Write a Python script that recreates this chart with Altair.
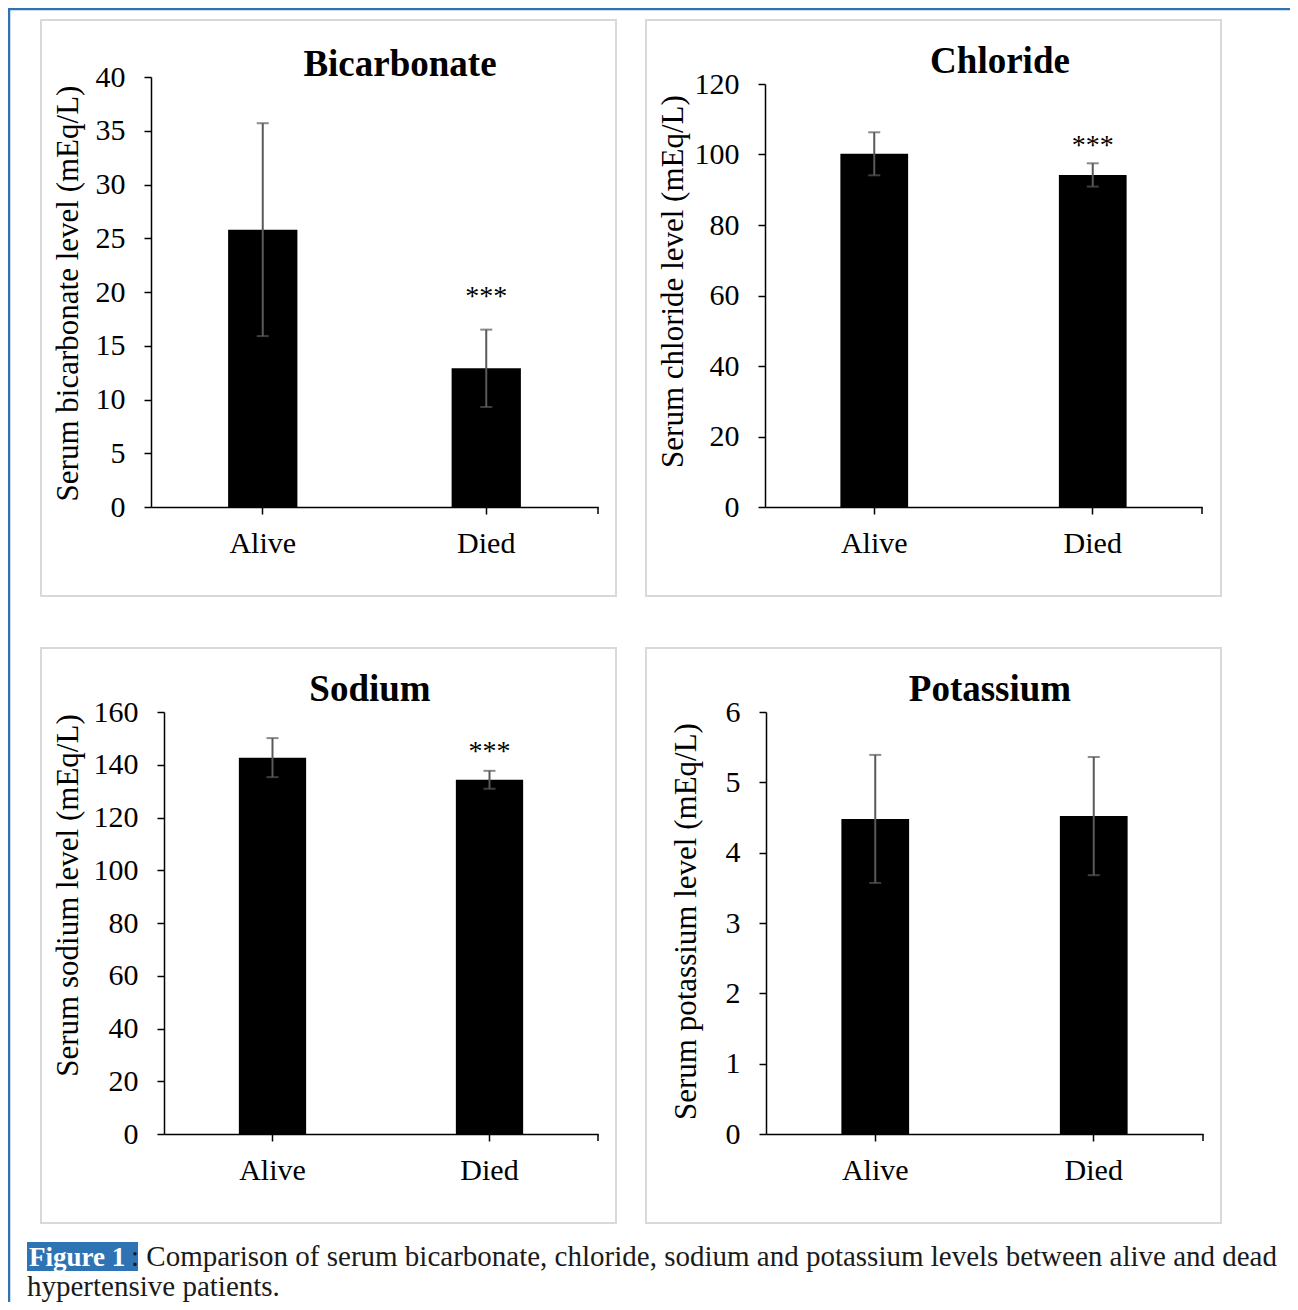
import altair as alt
import pandas as pd

# ---------------- data ----------------
categories = ["Alive", "Died"]

bicarb_mean = [25.8, 12.9]
bicarb_sd = [9.9, 3.6]
bicarb_sig = ["", "***"]

chloride_mean = [100.2, 94.2]
chloride_sd = [6.1, 3.3]
chloride_sig = ["", "***"]

sodium_mean = [142.7, 134.3]
sodium_sd = [7.4, 3.4]
sodium_sig = ["", "***"]

potassium_mean = [4.48, 4.52]
potassium_sd = [0.91, 0.84]
potassium_sig = ["", ""]

panel_titles = ["Bicarbonate", "Chloride", "Sodium", "Potassium"]
axis_titles = ["Serum bicarbonate level (mEq/L)", "Serum chloride level (mEq/L)",
               "Serum sodium level (mEq/L)", "Serum potassium level (mEq/L)"]
y_max = [40, 120, 160, 6]
y_step = [5, 20, 20, 1]

caption_lead = "Figure 1"
caption_line1 = ": Comparison of serum bicarbonate, chloride, sodium and potassium levels between alive and dead"
caption_line2 = "hypertensive patients."

# ---------------- layout ----------------
W, H = 1282, 1294
O = 8  # page margin
FONT = "Liberation Serif"
BLUE = "#2e74b5"
ERR = "#595959"

def P(v):
    return v - O

def panel(means, sds, sig, title, ytitle, ymax, ystep,
          box, axis_x, x_end, y0, ytop, title_c, star_dy, ytitle_xy):
    df = pd.DataFrame({
        "group": categories,
        "mean": means,
        "lo": [m - s for m, s in zip(means, sds)],
        "hi": [m + s for m, s in zip(means, sds)],
        "sig": sig,
    })
    xscale = alt.Scale(domain=categories, range=[P(axis_x), P(x_end)],
                       paddingInner=0.69, paddingOuter=0.345)
    yscale = alt.Scale(domain=[0, ymax], range=[P(y0), P(ytop)], nice=False, zero=True)
    xaxis = alt.Axis(orient="bottom", offset=P(y0) - H, title=None, labelAngle=0,
                     labelFont=FONT, labelFontSize=30, labelColor="black",
                     labelPadding=14, tickSize=7, tickColor="black", tickWidth=1.5,
                     domainColor="black", domainWidth=1.5, grid=False)
    ticks = list(range(0, ymax + 1, ystep))
    yaxis = alt.Axis(orient="left", offset=-P(axis_x), values=ticks, title=ytitle,
                     titleFont=FONT, titleFontSize=31, titleFontWeight="normal",
                     titleColor="black", titleX=ytitle_xy[0] - axis_x,
                     titleY=P(ytitle_xy[1]), titleBaseline="middle",
                     labelFont=FONT, labelFontSize=30, labelColor="black",
                     labelPadding=19, tickSize=7, tickColor="black", tickWidth=1.5,
                     domainColor="black", domainWidth=1.5, grid=False, format="d")
    base = alt.Chart(df)
    xs = alt.X("group:N", scale=xscale, axis=xaxis, sort=categories)
    bars = base.mark_bar(color="black").encode(
        x=xs,
        y=alt.Y("mean:Q", scale=yscale, axis=yaxis, title=ytitle),
    )
    rule = base.mark_rule(color=ERR, strokeWidth=2).encode(
        x=xs, y=alt.Y("lo:Q", scale=yscale, axis=yaxis, title=ytitle), y2="hi:Q")
    cap_lo = base.mark_tick(color=ERR, size=12, thickness=2).encode(
        x=xs, y=alt.Y("lo:Q", scale=yscale, axis=yaxis, title=ytitle))
    cap_hi = base.mark_tick(color=ERR, size=12, thickness=2).encode(
        x=xs, y=alt.Y("hi:Q", scale=yscale, axis=yaxis, title=ytitle))
    stars = base.mark_text(font=FONT, fontSize=28, color="black", baseline="alphabetic",
                           dy=star_dy).encode(
        x=xs, y=alt.Y("hi:Q", scale=yscale, axis=yaxis, title=ytitle), text="sig:N")
    one = alt.Data(values=[{"k": 1}])
    frame = alt.Chart(one).mark_rect(fill="white", fillOpacity=0, stroke="#d9d9d9",
                                     strokeWidth=2).encode(
        x=alt.value(P(box[0])), x2=alt.value(P(box[2])),
        y=alt.value(P(box[1])), y2=alt.value(P(box[3])))
    ttl = alt.Chart(one).mark_text(font=FONT, fontSize=37, fontWeight="bold",
                                   color="black", align="center", baseline="middle").encode(
        x=alt.value(P(title_c[0])), y=alt.value(P(title_c[1])), text=alt.value(title))
    end_tick = alt.Chart(one).mark_rule(color="black", strokeWidth=1.5).encode(
        x=alt.value(P(x_end)), y=alt.value(P(y0)), y2=alt.value(P(y0) + 7))
    return alt.layer(frame, bars, rule, cap_lo, cap_hi, stars, ttl, end_tick)

p1 = panel(bicarb_mean, bicarb_sd, bicarb_sig, panel_titles[0], axis_titles[0], y_max[0], y_step[0],
           (41, 20, 616, 596), 151, 598, 507, 77, (400, 65), -25, (68, 293))
p2 = panel(chloride_mean, chloride_sd, chloride_sig, panel_titles[1], axis_titles[1], y_max[1], y_step[1],
           (646, 20, 1221, 596), 765, 1202, 507, 84, (1000, 62), -9, (673, 281))
p3 = panel(sodium_mean, sodium_sd, sodium_sig, panel_titles[2], axis_titles[2], y_max[2], y_step[2],
           (41, 648, 616, 1223), 164, 598, 1134, 712, (370, 690), -11, (68, 895))
p4 = panel(potassium_mean, potassium_sd, potassium_sig, panel_titles[3], axis_titles[3], y_max[3], y_step[3],
           (646, 648, 1221, 1223), 766, 1203, 1134, 712, (990, 690), -10, (686, 921))

one = alt.Data(values=[{"k": 1}])
border_top = alt.Chart(one).mark_rule(color=BLUE, strokeWidth=2.5).encode(
    x=alt.value(0), x2=alt.value(W), y=alt.value(P(9)))
border_left = alt.Chart(one).mark_rule(color=BLUE, strokeWidth=2.5).encode(
    x=alt.value(1), y=alt.value(P(9)), y2=alt.value(H))
lead_box = alt.Chart(one).mark_rect(fill=BLUE).encode(
    x=alt.value(P(27)), x2=alt.value(P(138)), y=alt.value(P(1242)), y2=alt.value(P(1271)))
lead_txt = alt.Chart(one).mark_text(font=FONT, fontSize=27, fontWeight="bold", color="white",
                                    align="left", baseline="alphabetic").encode(
    x=alt.value(P(29)), y=alt.value(P(1266)), text=alt.value(caption_lead))
line1 = alt.Chart(one).mark_text(font=FONT, fontSize=29, color="#1a1a1a",
                                 align="left", baseline="alphabetic").encode(
    x=alt.value(P(131)), y=alt.value(P(1266)), text=alt.value(caption_line1))
line2 = alt.Chart(one).mark_text(font=FONT, fontSize=29, color="#1a1a1a",
                                 align="left", baseline="alphabetic").encode(
    x=alt.value(P(27)), y=alt.value(P(1296)), text=alt.value(caption_line2))

chart = alt.layer(p1, p2, p3, p4, border_top, border_left, lead_box, lead_txt, line1, line2).resolve_scale(
    x="independent", y="independent"
).properties(
    width=W, height=H, autosize=alt.AutoSizeParams(type="none"), padding=0, background="white"
).configure_view(strokeWidth=0)

chart.save("out.html", embed_options={"renderer": "svg", "actions": False})
